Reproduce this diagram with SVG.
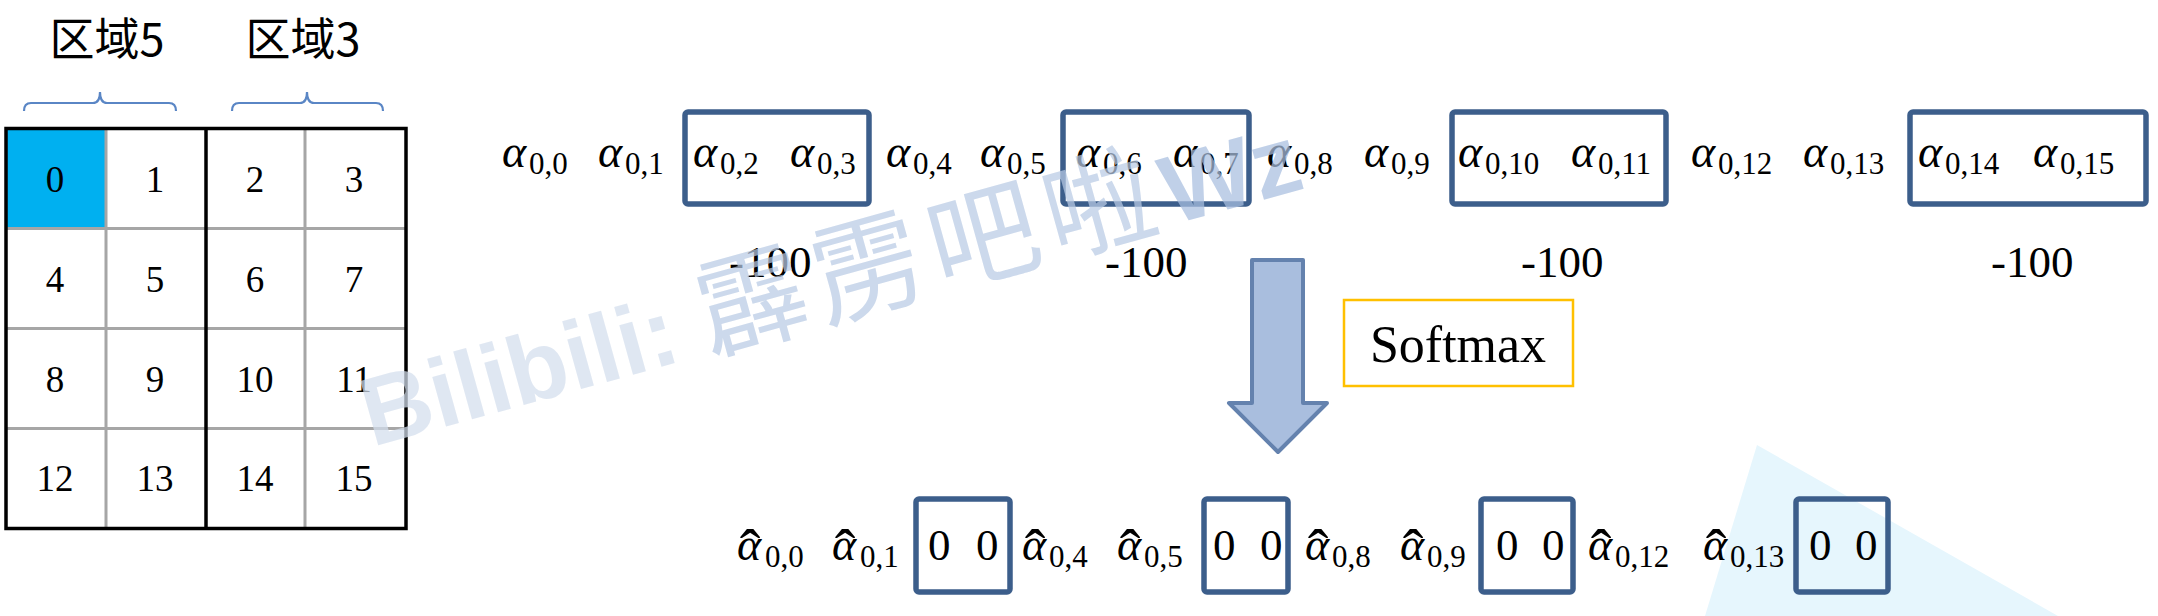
<svg xmlns="http://www.w3.org/2000/svg" width="2158" height="616" viewBox="0 0 2158 616">
<style>
.num{font-family:"Liberation Serif","Times New Roman",serif;font-size:37px;fill:#000;text-anchor:middle}
.lbl{font-family:"Noto Sans CJK SC","Noto Sans",sans-serif;font-size:45px;fill:#000;text-anchor:middle}
.brace{fill:none;stroke:#5A86C5;stroke-width:2.2}
.gl{stroke:#A6A6A6;stroke-width:3}
.bl{stroke:#000;stroke-width:3.5}
.al{font-family:"Liberation Serif","Times New Roman",serif;font-style:italic;font-size:46px;fill:#000}
.sb{font-family:"Liberation Serif","Times New Roman",serif;font-style:normal;font-size:31px}
.hat{font-family:"Liberation Serif","Times New Roman",serif;font-style:normal;font-size:62px;text-anchor:middle}
.box{fill:none;stroke:#3C5E8B;stroke-width:5.5}
.big{font-family:"Liberation Serif","Times New Roman",serif;font-size:45px;fill:#000}
.wm{font-family:"Liberation Sans",Arial,sans-serif;font-weight:bold;font-size:97px}
.wmc{font-family:"Noto Sans CJK SC",sans-serif;font-weight:normal;font-size:110px;letter-spacing:10px}
</style>
<rect width="2158" height="616" fill="#fff"/>
<polygon points="1757,445 1705,616 2058,616" fill="#E6F6FD"/>

<g id="labels">
<text class="lbl" x="107" y="56">区域5</text>
<text class="lbl" x="303" y="56">区域3</text>
<path class="brace" d="M24,111 Q24,103 31,103 L93,103 Q100,103 100,92 Q100,103 107,103 L169,103 Q176,103 176,111"/>
<path class="brace" d="M232,111 Q232,103 239,103 L300,103 Q307,103 307,92 Q307,103 314,103 L376,103 Q383,103 383,111"/>
</g>

<g id="grid">
<rect x="7" y="130" width="98" height="98" fill="#00B0F0"/>
<line class="gl" x1="106" y1="128.5" x2="106" y2="528.5"/>
<line class="gl" x1="305" y1="128.5" x2="305" y2="528.5"/>
<line class="gl" x1="6" y1="228.5" x2="406" y2="228.5"/>
<line class="gl" x1="6" y1="328.5" x2="406" y2="328.5"/>
<line class="gl" x1="6" y1="428.5" x2="406" y2="428.5"/>
<line class="bl" x1="206" y1="128.5" x2="206" y2="528.5"/>
<rect x="6" y="128.5" width="400" height="400" fill="none" stroke="#000" stroke-width="3.5"/>
<text class="num" x="55" y="192">0</text><text class="num" x="155" y="192">1</text><text class="num" x="255" y="192">2</text><text class="num" x="354" y="192">3</text>
<text class="num" x="55" y="292">4</text><text class="num" x="155" y="292">5</text><text class="num" x="255" y="292">6</text><text class="num" x="354" y="292">7</text>
<text class="num" x="55" y="392">8</text><text class="num" x="155" y="392">9</text><text class="num" x="255" y="392">10</text><text class="num" x="354" y="392">11</text>
<text class="num" x="55" y="491">12</text><text class="num" x="155" y="491">13</text><text class="num" x="255" y="491">14</text><text class="num" x="354" y="491">15</text>
</g>

<g id="top-row">
<text class="al" x="502" y="167">α<tspan class="sb" x="529" y="174">0,0</tspan></text>
<text class="al" x="598" y="167">α<tspan class="sb" x="625" y="174">0,1</tspan></text>
<text class="al" x="693" y="167">α<tspan class="sb" x="720" y="174">0,2</tspan></text>
<text class="al" x="790" y="167">α<tspan class="sb" x="817" y="174">0,3</tspan></text>
<text class="al" x="886" y="167">α<tspan class="sb" x="913" y="174">0,4</tspan></text>
<text class="al" x="980" y="167">α<tspan class="sb" x="1007" y="174">0,5</tspan></text>
<text class="al" x="1076" y="167">α<tspan class="sb" x="1103" y="174">0,6</tspan></text>
<text class="al" x="1173" y="167">α<tspan class="sb" x="1200" y="174">0,7</tspan></text>
<text class="al" x="1267" y="167">α<tspan class="sb" x="1294" y="174">0,8</tspan></text>
<text class="al" x="1364" y="167">α<tspan class="sb" x="1391" y="174">0,9</tspan></text>
<text class="al" x="1458" y="167">α<tspan class="sb" x="1485" y="174">0,10</tspan></text>
<text class="al" x="1571" y="167">α<tspan class="sb" x="1598" y="174">0,11</tspan></text>
<text class="al" x="1691" y="167">α<tspan class="sb" x="1718" y="174">0,12</tspan></text>
<text class="al" x="1803" y="167">α<tspan class="sb" x="1830" y="174">0,13</tspan></text>
<text class="al" x="1918" y="167">α<tspan class="sb" x="1945" y="174">0,14</tspan></text>
<text class="al" x="2033" y="167">α<tspan class="sb" x="2060" y="174">0,15</tspan></text>
</g>

<g id="top-box-1"><rect class="box" x="685" y="112" width="184" height="92" rx="3"/><text class="big" x="729" y="277">-100</text></g>
<g id="top-box-2"><rect class="box" x="1063" y="112" width="186" height="92" rx="3"/><text class="big" x="1105" y="277">-100</text></g>
<g id="top-box-3"><rect class="box" x="1452" y="112" width="214" height="92" rx="3"/><text class="big" x="1521" y="277">-100</text></g>
<g id="top-box-4"><rect class="box" x="1910" y="112" width="236" height="92" rx="3"/><text class="big" x="1991" y="277">-100</text></g>

<g id="connectors">
<polygon points="1252,260 1303,260 1303,403 1327,403 1278,452 1229,403 1252,403" fill="#A9BEDE" stroke="#6482AE" stroke-width="4" stroke-linejoin="round"/>
</g>

<g id="softmax">
<rect x="1344" y="300" width="229" height="86" fill="none" stroke="#FFC000" stroke-width="2.5"/>
<text class="big" x="1458" y="362" style="font-size:52px;text-anchor:middle">Softmax</text>
</g>

<g id="bottom-row">
<text class="al" x="737" y="560">α<tspan class="hat" x="750" y="572">ˆ</tspan><tspan class="sb" x="765" y="567">0,0</tspan></text>
<text class="al" x="832" y="560">α<tspan class="hat" x="845" y="572">ˆ</tspan><tspan class="sb" x="860" y="567">0,1</tspan></text>
<text class="al" x="1022" y="560">α<tspan class="hat" x="1035" y="572">ˆ</tspan><tspan class="sb" x="1049" y="567">0,4</tspan></text>
<text class="al" x="1117" y="560">α<tspan class="hat" x="1130" y="572">ˆ</tspan><tspan class="sb" x="1144" y="567">0,5</tspan></text>
<text class="al" x="1305" y="560">α<tspan class="hat" x="1318" y="572">ˆ</tspan><tspan class="sb" x="1332" y="567">0,8</tspan></text>
<text class="al" x="1400" y="560">α<tspan class="hat" x="1413" y="572">ˆ</tspan><tspan class="sb" x="1427" y="567">0,9</tspan></text>
<text class="al" x="1588" y="560">α<tspan class="hat" x="1601" y="572">ˆ</tspan><tspan class="sb" x="1615" y="567">0,12</tspan></text>
<text class="al" x="1703" y="560">α<tspan class="hat" x="1716" y="572">ˆ</tspan><tspan class="sb" x="1730" y="567">0,13</tspan></text>
</g>

<g id="bottom-box-1"><rect class="box" x="916" y="499" width="94" height="93" rx="3"/><text class="big" x="928" y="560">0<tspan x="976">0</tspan></text></g>
<g id="bottom-box-2"><rect class="box" x="1204" y="499" width="84" height="93" rx="3"/><text class="big" x="1213" y="560">0<tspan x="1260">0</tspan></text></g>
<g id="bottom-box-3"><rect class="box" x="1481" y="499" width="92" height="93" rx="3"/><text class="big" x="1496" y="560">0<tspan x="1542">0</tspan></text></g>
<g id="bottom-box-4"><rect class="box" x="1796" y="499" width="92" height="93" rx="3"/><text class="big" x="1809" y="560">0<tspan x="1855">0</tspan></text></g>

<g id="watermark" transform="rotate(-15.5 372 447)" opacity="0.72">
<text x="372" y="447"><tspan class="wm" fill="#D4DFEE">Bilibili: </tspan><tspan class="wmc" fill="#B9CBE5">霹雳吧啦</tspan><tspan class="wm" fill="#A9BFE0">Wz</tspan></text>
</g>
</svg>
